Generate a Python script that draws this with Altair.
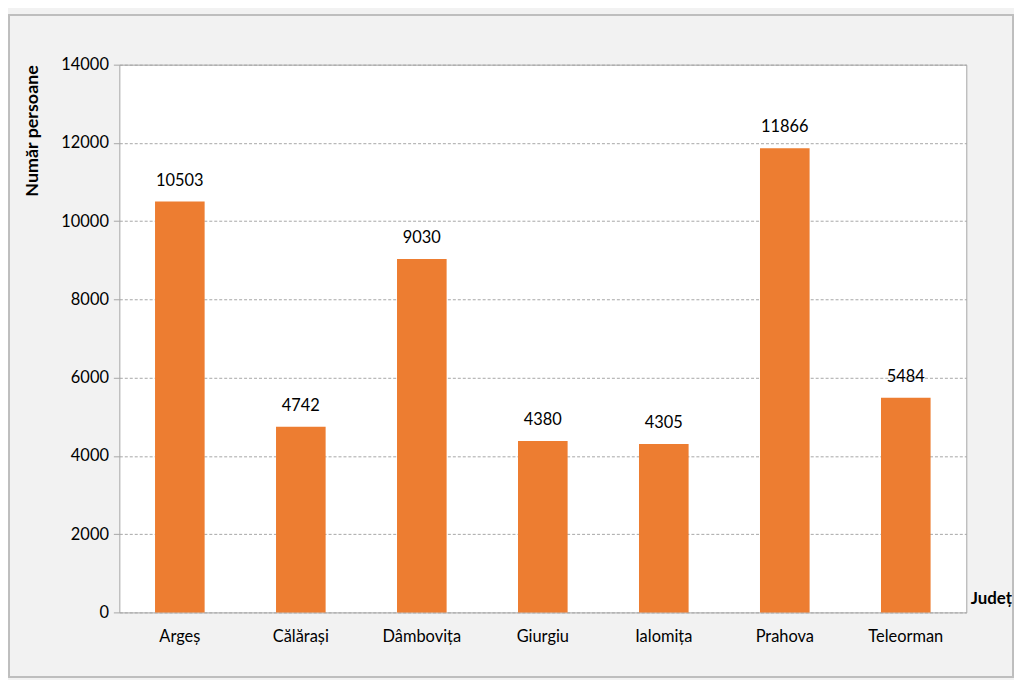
import altair as alt
import pandas as pd

judete = ["Argeș", "Călărași", "Dâmbovița", "Giurgiu", "Ialomița", "Prahova", "Teleorman"]
persoane = [10503, 4742, 9030, 4380, 4305, 11866, 5484]
y_ticks = [0, 2000, 4000, 6000, 8000, 10000, 12000, 14000]

df = pd.DataFrame({"Judet": judete, "Persoane": persoane})

W, H = 852, 551
FONT = "Lato"
FS = 16.5

x = alt.X(
    "Judet:N",
    sort=judete,
    scale=alt.Scale(paddingInner=0.59, paddingOuter=0.295),
    axis=alt.Axis(
        title="Județ",
        titleX=W + 4,
        titleY=-14,
        titleAlign="left",
        titleBaseline="middle",
        titleFont=FONT,
        titleFontSize=17,
        titleFontWeight="bold",
        titleColor="#000000",
        labelAngle=0,
        labelFont=FONT,
        labelFontSize=FS,
        labelColor="#000000",
        labelPadding=16,
        ticks=False,
        domain=False,
        grid=False,
    ),
)

y = alt.Y(
    "Persoane:Q",
    scale=alt.Scale(domain=[0, 14000], nice=False),
    axis=alt.Axis(
        values=y_ticks,
        format="d",
        title="Număr persoane",
        titleX=-87,
        titleY=0,
        titleAngle=-90,
        titleAlign="right",
        titleBaseline="middle",
        titleFont=FONT,
        titleFontSize=18,
        titleFontWeight="bold",
        titleColor="#000000",
        labelFont=FONT,
        labelFontSize=FS,
        labelColor="#000000",
        labelPadding=5,
        tickSize=6,
        tickColor="#a6a6a6",
        domain=False,
        grid=True,
        gridColor="#a6a6a6",
        gridDash=[3, 2],
        gridWidth=1,
    ),
)

bars = alt.Chart(df).mark_bar(color="#ED7D31").encode(x=x, y=y)

labels = alt.Chart(df).mark_text(
    dy=-13, baseline="bottom", font=FONT, fontSize=FS, color="#000000"
).encode(x=alt.X("Judet:N", sort=judete), y="Persoane:Q", text="Persoane:Q")

border = alt.Chart(df).mark_rect(
    fill=None, stroke="#bfbfbf", strokeWidth=1.5, clip=False
).encode(
    x=alt.value(-111),
    x2=alt.value(W + 47),
    y=alt.value(-50),
    y2=alt.value(H + 65),
)

chart = alt.layer(border, bars, labels).properties(
    width=W,
    height=H,
    autosize=alt.AutoSizeParams(type="none"),
    padding={"left": 112, "top": 55, "right": 48, "bottom": 66},
    background="#f2f2f2",
).configure_view(
    fill="#ffffff", stroke="#a6a6a6", strokeWidth=1
)

chart.save("out.html", embed_options={"renderer": "svg", "actions": False})
